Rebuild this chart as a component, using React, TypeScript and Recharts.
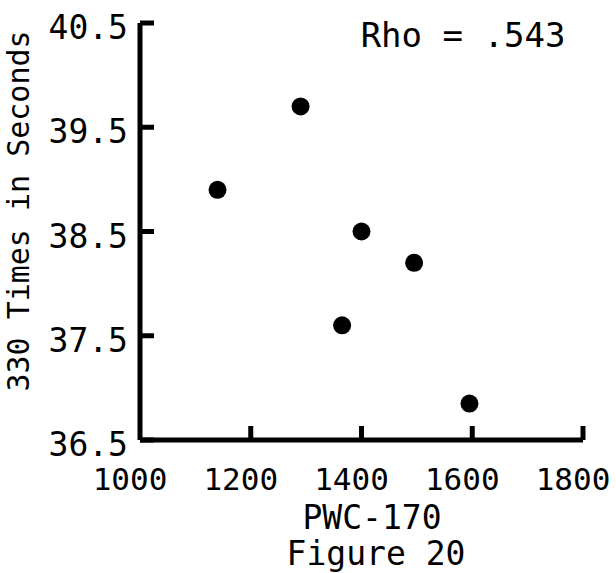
import { ScatterChart, Scatter, XAxis, YAxis } from 'recharts'

const pwc = [1290, 1140, 1400, 1495, 1365, 1595]
const times = [39.7, 38.9, 38.5, 38.2, 37.6, 36.85]
const xTicks = [1000, 1200, 1400, 1600, 1800]
const yTicks = [36.5, 37.5, 38.5, 39.5, 40.5]
const xLabel = 'PWC-170'
const yLabel = '330 Times in Seconds'
const caption = 'Figure 20'
const note = 'Rho = .543'

const FONT = '"DejaVu Sans Mono", "Liberation Mono", monospace'
const INK = '#000'

const data = pwc.map((x, i) => ({ x, y: times[i] }))

// typewriter-style ticks: short marks pointing into the plot
function YTick({ x, y, payload }: any) {
  const ax = x + 8
  return (
    <g>
      <line x1={ax} y1={y} x2={ax + 14} y2={y} stroke={INK} strokeWidth={5} />
      <text x={x - 4} y={y} dy={16} textAnchor="end" fontFamily={FONT} fontSize={33} fill={INK}>
        {payload.value.toFixed(1)}
      </text>
    </g>
  )
}

function XTick({ x, y, payload }: any) {
  const ay = y - 8
  return (
    <g>
      {payload.value !== xTicks[0] && (
        <line x1={x} y1={ay} x2={x} y2={ay - 14} stroke={INK} strokeWidth={5} />
      )}
      <text x={x - 10} y={y} dy={42} textAnchor="middle" fontFamily={FONT} fontSize={31} fill={INK}>
        {payload.value}
      </text>
    </g>
  )
}

const textStyle: React.CSSProperties = {
  position: 'absolute',
  fontFamily: FONT,
  color: INK,
  whiteSpace: 'nowrap',
  lineHeight: 0.9,
  transform: 'translate(-50%, -50%)',
}

export default function App() {
  return (
    <div style={{ position: 'absolute', left: 0, top: 0, width: 616, height: 573, background: '#fff' }}>
      <ScatterChart width={616} height={573} margin={{ top: 23, right: 33, bottom: 93, left: 0 }}>
        <XAxis
          type="number"
          dataKey="x"
          domain={[1000, 1800]}
          ticks={xTicks}
          height={40}
          tickSize={0}
          tickMargin={8}
          tickLine={false}
          axisLine={{ stroke: INK, strokeWidth: 5 }}
          tick={<XTick />}
        />
        <YAxis
          type="number"
          dataKey="y"
          domain={[36.5, 40.5]}
          ticks={yTicks}
          width={140}
          tickSize={0}
          tickMargin={8}
          tickLine={false}
          axisLine={{ stroke: INK, strokeWidth: 5 }}
          tick={<YTick />}
        />
        <Scatter data={data} fill={INK} isAnimationActive={false} shape={(p: any) => <circle cx={p.cx} cy={p.cy} r={9} fill={INK} />} />
      </ScatterChart>
      <div style={{ ...textStyle, left: 463, top: 35, fontSize: 34 }}>{note}</div>
      <div style={{ ...textStyle, left: 372, top: 518, fontSize: 33 }}>{xLabel}</div>
      <div style={{ ...textStyle, left: 376, top: 554, fontSize: 33 }}>{caption}</div>
      <div style={{ ...textStyle, left: 18, top: 211, fontSize: 30, transform: 'translate(-50%, -50%) rotate(-90deg)' }}>
        {yLabel}
      </div>
    </div>
  )
}
